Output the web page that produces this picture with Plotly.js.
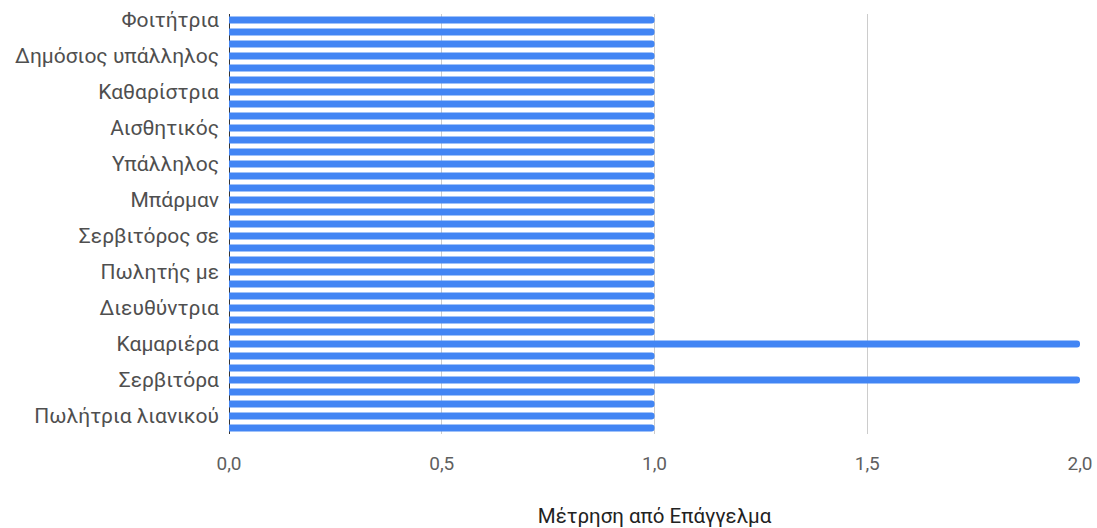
<!DOCTYPE html>
<html>
<head>
<meta charset="utf-8">
<script src="https://cdn.plot.ly/plotly-3.0.1.min.js"></script>
<style>html,body{margin:0;padding:0;background:#fff;}#chart{width:1097px;height:528px;}</style>
</head>
<body>
<div id="chart"></div>
<script>
// 35 bars; only every third category label is shown in the original chart
const categories = [
  "Φοιτήτρια", "", "",
  "Δημόσιος υπάλληλος", "", "",
  "Καθαρίστρια", "", "",
  "Αισθητικός", "", "",
  "Υπάλληλος", "", "",
  "Μπάρμαν", "", "",
  "Σερβιτόρος σε", "", "",
  "Πωλητής με", "", "",
  "Διευθύντρια", "", "",
  "Καμαριέρα", "", "",
  "Σερβιτόρα", "", "",
  "Πωλήτρια λιανικού", ""
];
const counts = [
  1, 1, 1,
  1, 1, 1,
  1, 1, 1,
  1, 1, 1,
  1, 1, 1,
  1, 1, 1,
  1, 1, 1,
  1, 1, 1,
  1, 1, 1,
  2, 1, 1,
  2, 1, 1,
  1, 1
];
const xTicks = [0, 0.5, 1, 1.5, 2];
const xTitle = "Μέτρηση από Επάγγελμα";

const positions = categories.map((c, i) => i);
const tickvals = positions.filter(i => categories[i] !== "");
const ticktext = tickvals.map(i => categories[i]);

const trace = {
  type: "bar",
  orientation: "h",
  x: counts,
  y: positions,
  marker: {color: "#4285f4", cornerradius: 4},
  hoverinfo: "x"
};

const layout = {
  width: 1097, height: 528,
  margin: {l: 229, r: 17, t: 14, b: 94},
  paper_bgcolor: "#fff", plot_bgcolor: "#fff",
  font: {family: "Roboto, Arial, sans-serif", color: "#444"},
  separators: ",.",
  bargap: 0.42,
  showlegend: false,
  xaxis: {
    range: [0, 2],
    tickvals: xTicks,
    tickformat: ".1f",
    showgrid: true, gridcolor: "#cccccc", gridwidth: 1,
    zeroline: true, zerolinecolor: "#333", zerolinewidth: 1,
    showline: false, ticks: "",
    ticklabelstandoff: 16,
    tickfont: {size: 19, color: "#5f5f5f"},
    title: {text: xTitle, font: {size: 20.5, color: "#222"}, standoff: 34},
    automargin: false
  },
  yaxis: {
    range: [categories.length - 0.5, -0.5],
    tickvals: tickvals, ticktext: ticktext,
    showgrid: false, zeroline: false, showline: false, ticks: "",
    ticklabelstandoff: 9,
    tickfont: {size: 21, color: "#4f4f4f"},
    automargin: false
  }
};

Plotly.newPlot("chart", [trace], layout, {displayModeBar: false, staticPlot: true});
</script>
</body>
</html>
